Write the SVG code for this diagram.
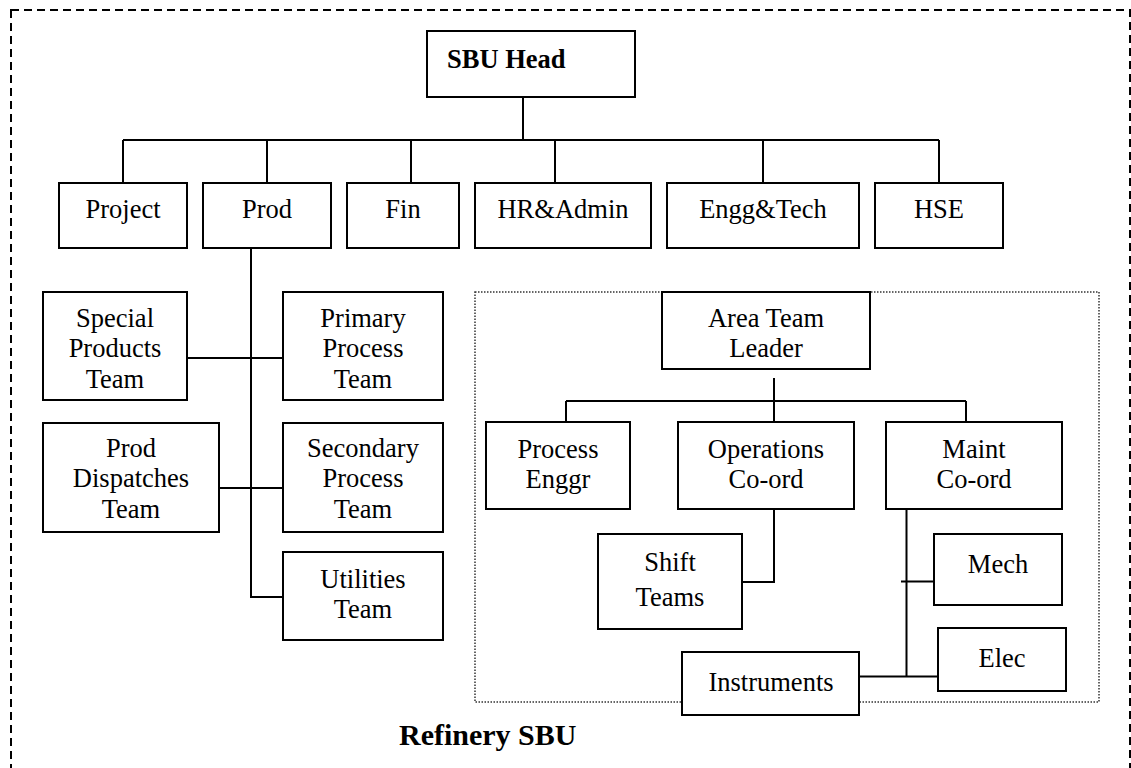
<svg xmlns="http://www.w3.org/2000/svg" width="1131" height="768" viewBox="0 0 1131 768">
<style>
.box{fill:#fff;stroke:#000;stroke-width:2}
.t{font-family:"Liberation Serif","Times New Roman",serif;font-size:26.5px;fill:#000;text-anchor:middle}
.b{font-weight:bold}
.c{stroke:#000;stroke-width:2;fill:none}
</style>
<rect x="11" y="10" width="1119" height="770" fill="none" stroke="#000" stroke-width="2" stroke-dasharray="8 5"/>
<rect x="475" y="292" width="624" height="410" fill="none" stroke="#333" stroke-width="1.5" stroke-dasharray="1.5 1.5"/>
<g id="connectors">
<path class="c" d="M523 97V140M123 140H939M123 140V183M267 140V183M411 140V183M555 140V183M763 140V183M939 140V183"/>
<path class="c" d="M251 248V597H283M187 358H283M219 488H283"/>
<path class="c" d="M774 378V422M566 401H966M566 401V422M966 401V422"/>
<path class="c" d="M774 509V582H742"/>
<path class="c" d="M906.5 509V676.5M901 581.5H934M859 676.5H938"/>
</g>
<g id="sbu-head"><rect class="box" x="427" y="31" width="208" height="66"/><text class="t b" x="447" y="68" style="text-anchor:start">SBU Head</text></g>
<g id="project"><rect class="box" x="59" y="183" width="128" height="65"/><text class="t" x="123" y="218">Project</text></g>
<g id="prod"><rect class="box" x="203" y="183" width="128" height="65"/><text class="t" x="267" y="218">Prod</text></g>
<g id="fin"><rect class="box" x="347" y="183" width="112" height="65"/><text class="t" x="403" y="218">Fin</text></g>
<g id="hr-admin"><rect class="box" x="475" y="183" width="176" height="65"/><text class="t" x="563" y="218">HR&amp;Admin</text></g>
<g id="engg-tech"><rect class="box" x="667" y="183" width="192" height="65"/><text class="t" x="763" y="218">Engg&amp;Tech</text></g>
<g id="hse"><rect class="box" x="875" y="183" width="128" height="65"/><text class="t" x="939" y="218">HSE</text></g>
<g id="special-products"><rect class="box" x="43" y="292" width="144" height="108"/><text class="t" x="115" y="327">Special</text><text class="t" x="115" y="357">Products</text><text class="t" x="115" y="388">Team</text></g>
<g id="primary-process"><rect class="box" x="283" y="292" width="160" height="108"/><text class="t" x="363" y="327">Primary</text><text class="t" x="363" y="357">Process</text><text class="t" x="363" y="388">Team</text></g>
<g id="prod-dispatches"><rect class="box" x="43" y="423" width="176" height="109"/><text class="t" x="131" y="457">Prod</text><text class="t" x="131" y="487">Dispatches</text><text class="t" x="131" y="518">Team</text></g>
<g id="secondary-process"><rect class="box" x="283" y="423" width="160" height="109"/><text class="t" x="363" y="457">Secondary</text><text class="t" x="363" y="487">Process</text><text class="t" x="363" y="518">Team</text></g>
<g id="utilities"><rect class="box" x="283" y="552" width="160" height="88"/><text class="t" x="363" y="588">Utilities</text><text class="t" x="363" y="618">Team</text></g>
<g id="area-team-leader"><rect class="box" x="662" y="292" width="208" height="77"/><text class="t" x="766" y="327">Area Team</text><text class="t" x="766" y="357">Leader</text></g>
<g id="process-enggr"><rect class="box" x="486" y="422" width="144" height="87"/><text class="t" x="558" y="458">Process</text><text class="t" x="558" y="488">Enggr</text></g>
<g id="operations-coord"><rect class="box" x="678" y="422" width="176" height="87"/><text class="t" x="766" y="458">Operations</text><text class="t" x="766" y="488">Co-ord</text></g>
<g id="maint-coord"><rect class="box" x="886" y="422" width="176" height="87"/><text class="t" x="974" y="458">Maint</text><text class="t" x="974" y="488">Co-ord</text></g>
<g id="shift-teams"><rect class="box" x="598" y="534" width="144" height="95"/><text class="t" x="670" y="571">Shift</text><text class="t" x="670" y="606">Teams</text></g>
<g id="mech"><rect class="box" x="934" y="534" width="128" height="71"/><text class="t" x="998" y="573">Mech</text></g>
<g id="elec"><rect class="box" x="938" y="628" width="128" height="63"/><text class="t" x="1002" y="667">Elec</text></g>
<g id="instruments"><rect class="box" x="682" y="652" width="177" height="63"/><text class="t" x="771" y="691">Instruments</text></g>
<text class="t b" x="399" y="745" style="text-anchor:start;font-size:30px">Refinery SBU</text>
</svg>
